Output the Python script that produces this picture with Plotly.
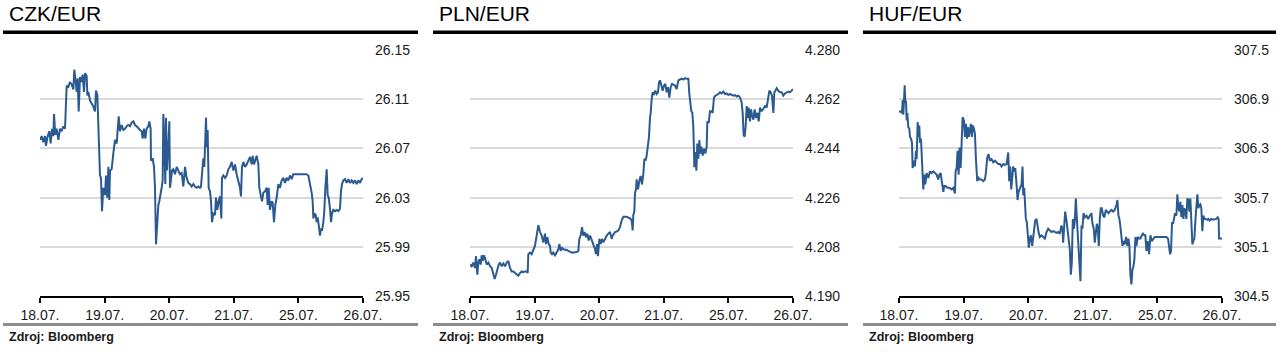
import plotly.graph_objects as go

W, H = 1288, 360

tick_labels = ["18.07.", "19.07.", "20.07.", "21.07.", "25.07.", "26.07."]
tick_positions = [0, 1, 2, 3, 4, 5]
titles = ["CZK/EUR", "PLN/EUR", "HUF/EUR"]
source_text = "Zdroj: Bloomberg"

# ---------------- CZK/EUR ----------------
czk_x = [
    0.000, 0.026, 0.052, 0.077, 0.093, 0.114, 0.144, 0.165, 0.186, 0.206,
    0.217, 0.237, 0.258, 0.284, 0.310, 0.335, 0.361, 0.387, 0.413, 0.439,
    0.464, 0.490, 0.516, 0.531, 0.552, 0.568, 0.583, 0.599, 0.619, 0.645,
    0.660, 0.681, 0.697, 0.722, 0.733, 0.748, 0.774, 0.800, 0.826, 0.851,
    0.867, 0.888, 0.903, 0.913, 0.929, 0.944, 0.960, 0.980, 1.006, 1.022,
    1.042, 1.058, 1.073, 1.084, 1.109, 1.135, 1.161, 1.187, 1.197, 1.218,
    1.238, 1.264, 1.290, 1.316, 1.342, 1.367, 1.393, 1.419, 1.445, 1.471,
    1.496, 1.522, 1.548, 1.574, 1.589, 1.610, 1.631, 1.651, 1.677, 1.692,
    1.713, 1.718, 1.744, 1.765, 1.780, 1.796, 1.811, 1.832, 1.847, 1.868,
    1.883, 1.899, 1.909, 1.925, 1.940, 1.950, 1.966, 1.987, 2.002, 2.012,
    2.028, 2.043, 2.064, 2.090, 2.116, 2.141, 2.167, 2.193, 2.219, 2.245,
    2.270, 2.296, 2.322, 2.348, 2.374, 2.399, 2.425, 2.451, 2.477, 2.492,
    2.503, 2.528, 2.544, 2.554, 2.570, 2.580, 2.595, 2.611, 2.632, 2.647,
    2.663, 2.683, 2.709, 2.724, 2.745, 2.766, 2.786, 2.807, 2.817, 2.838,
    2.864, 2.890, 2.915, 2.941, 2.967, 2.993, 3.019, 3.044, 3.070, 3.096,
    3.111, 3.127, 3.148, 3.173, 3.199, 3.225, 3.251, 3.277, 3.292, 3.313,
    3.333, 3.354, 3.380, 3.395, 3.416, 3.437, 3.457, 3.483, 3.509, 3.524,
    3.540, 3.560, 3.586, 3.602, 3.622, 3.643, 3.664, 3.689, 3.715, 3.741,
    3.767, 3.793, 3.818, 3.844, 3.870, 3.896, 3.922, 3.973, 4.128, 4.154,
    4.169, 4.190, 4.205, 4.221, 4.231, 4.247, 4.267, 4.283, 4.298, 4.314,
    4.334, 4.350, 4.365, 4.386, 4.401, 4.417, 4.438, 4.453, 4.469, 4.489,
    4.505, 4.520, 4.541, 4.567, 4.592, 4.618, 4.644, 4.659, 4.675, 4.696,
    4.721, 4.747, 4.773, 4.799, 4.825, 4.850, 4.876, 4.902, 4.928, 4.954,
    4.979, 5.000,
]
czk_y = [
    26.077, 26.080, 26.075, 26.080, 26.072, 26.079, 26.084, 26.074, 26.086, 26.080,
    26.098, 26.081, 26.086, 26.077, 26.086, 26.084, 26.088, 26.086, 26.121, 26.120,
    26.124, 26.122, 26.118, 26.134, 26.124, 26.116, 26.127, 26.100, 26.128, 26.124,
    26.130, 26.116, 26.131, 26.129, 26.113, 26.116, 26.109, 26.107, 26.104, 26.100,
    26.117, 26.113, 26.093, 26.074, 26.048, 26.046, 26.019, 26.038, 26.032, 26.048,
    26.030, 26.055, 26.028, 26.052, 26.053, 26.066, 26.077, 26.074, 26.080, 26.096,
    26.084, 26.089, 26.085, 26.086, 26.088, 26.089, 26.088, 26.091, 26.092, 26.089,
    26.088, 26.086, 26.085, 26.084, 26.078, 26.086, 26.078, 26.086, 26.088, 26.092,
    26.086, 26.060, 26.062, 26.055, 26.038, 25.992, 26.008, 26.024, 26.027, 26.032,
    26.038, 26.044, 26.098, 26.074, 26.041, 26.095, 26.052, 26.073, 26.092, 26.038,
    26.046, 26.052, 26.053, 26.049, 26.055, 26.052, 26.049, 26.050, 26.039, 26.055,
    26.046, 26.042, 26.041, 26.039, 26.041, 26.039, 26.038, 26.039, 26.038, 26.039,
    26.049, 26.062, 26.055, 26.077, 26.095, 26.071, 26.085, 26.038, 26.035, 26.027,
    26.010, 26.017, 26.016, 26.030, 26.020, 26.027, 26.031, 26.013, 26.046, 26.048,
    26.046, 26.048, 26.053, 26.055, 26.059, 26.052, 26.057, 26.049, 26.044, 26.038,
    26.031, 26.055, 26.059, 26.055, 26.057, 26.060, 26.063, 26.057, 26.064, 26.057,
    26.060, 26.064, 26.057, 26.038, 26.032, 26.027, 26.034, 26.035, 26.038, 26.024,
    26.038, 26.020, 26.027, 26.026, 26.010, 26.024, 26.030, 26.041, 26.038, 26.044,
    26.046, 26.042, 26.046, 26.044, 26.048, 26.045, 26.049, 26.049, 26.049, 26.048,
    26.044, 26.041, 26.034, 26.027, 26.013, 26.017, 26.016, 26.010, 26.014, 26.008,
    25.999, 26.005, 26.003, 26.010, 26.019, 26.038, 26.053, 26.032, 26.030, 26.021,
    26.010, 26.017, 26.020, 26.019, 26.020, 26.019, 26.021, 26.035, 26.041, 26.044,
    26.045, 26.042, 26.045, 26.042, 26.044, 26.042, 26.044, 26.041, 26.044, 26.042,
    26.045, 26.046,
]

# ---------------- PLN/EUR ----------------
pln_x = [
    0.000, 0.026, 0.052, 0.077, 0.093, 0.114, 0.129, 0.144, 0.165, 0.181,
    0.196, 0.217, 0.237, 0.258, 0.284, 0.310, 0.335, 0.361, 0.382, 0.402,
    0.423, 0.444, 0.464, 0.490, 0.516, 0.542, 0.568, 0.593, 0.619, 0.645,
    0.671, 0.697, 0.722, 0.748, 0.774, 0.800, 0.826, 0.851, 0.877, 0.893,
    0.903, 0.929, 0.955, 0.980, 1.006, 1.032, 1.058, 1.084, 1.109, 1.135,
    1.161, 1.176, 1.197, 1.218, 1.238, 1.249, 1.269, 1.290, 1.316, 1.342,
    1.367, 1.383, 1.404, 1.419, 1.445, 1.471, 1.496, 1.522, 1.548, 1.574,
    1.600, 1.625, 1.651, 1.677, 1.692, 1.713, 1.734, 1.754, 1.775, 1.796,
    1.816, 1.837, 1.858, 1.878, 1.909, 1.935, 1.950, 1.966, 1.981, 2.002,
    2.023, 2.043, 2.064, 2.090, 2.116, 2.141, 2.167, 2.193, 2.208, 2.229,
    2.245, 2.270, 2.296, 2.322, 2.348, 2.374, 2.399, 2.425, 2.451, 2.477,
    2.503, 2.518, 2.528, 2.544, 2.554, 2.570, 2.580, 2.601, 2.621, 2.642,
    2.663, 2.683, 2.699, 2.719, 2.735, 2.755, 2.771, 2.786, 2.797, 2.812,
    2.828, 2.848, 2.869, 2.890, 2.910, 2.926, 2.941, 2.962, 2.982, 3.003,
    3.024, 3.044, 3.065, 3.086, 3.106, 3.127, 3.148, 3.173, 3.199, 3.225,
    3.251, 3.277, 3.302, 3.328, 3.354, 3.380, 3.395, 3.411, 3.426, 3.442,
    3.457, 3.473, 3.488, 3.504, 3.519, 3.535, 3.550, 3.566, 3.581, 3.602,
    3.622, 3.643, 3.664, 3.674, 3.695, 3.715, 3.736, 3.756, 3.777, 3.798,
    3.818, 3.844, 3.870, 3.896, 3.922, 3.947, 3.973, 3.999, 4.025, 4.051,
    4.076, 4.102, 4.128, 4.154, 4.180, 4.205, 4.221, 4.236, 4.252, 4.267,
    4.283, 4.298, 4.314, 4.334, 4.350, 4.365, 4.386, 4.407, 4.427, 4.448,
    4.469, 4.489, 4.515, 4.541, 4.567, 4.592, 4.618, 4.634, 4.654, 4.675,
    4.696, 4.711, 4.727, 4.747, 4.773, 4.799, 4.825, 4.850, 4.876, 4.902,
    4.928, 4.954, 4.979, 5.000,
]
pln_y = [
    4.2015, 4.2009, 4.2022, 4.2003, 4.2046, 4.1978, 4.2022, 4.2034, 4.2015, 4.2049,
    4.2028, 4.2049, 4.2034, 4.2015, 4.2022, 4.2009, 4.2003, 4.1984, 4.1962, 4.1978,
    4.1997, 4.2015, 4.2022, 4.2009, 4.2019, 4.2009, 4.2022, 4.2028, 4.2003, 4.1990,
    4.1990, 4.1984, 4.1978, 4.1974, 4.1984, 4.1990, 4.1987, 4.1990, 4.1990, 4.1984,
    4.2053, 4.2059, 4.2053, 4.2071, 4.2084, 4.2121, 4.2159, 4.2134, 4.2121, 4.2096,
    4.2128, 4.2090, 4.2115, 4.2090, 4.2084, 4.2059, 4.2053, 4.2059, 4.2049, 4.2059,
    4.2071, 4.2090, 4.2065, 4.2078, 4.2071, 4.2069, 4.2069, 4.2065, 4.2061, 4.2059,
    4.2059, 4.2059, 4.2061, 4.2065, 4.2109, 4.2121, 4.2152, 4.2121, 4.2134, 4.2115,
    4.2128, 4.2103, 4.2121, 4.2109, 4.2090, 4.2071, 4.2053, 4.2090, 4.2046, 4.2109,
    4.2090, 4.2109, 4.2096, 4.2111, 4.2121, 4.2128, 4.2134, 4.2109, 4.2121, 4.2128,
    4.2134, 4.2136, 4.2140, 4.2152, 4.2177, 4.2190, 4.2190, 4.2190, 4.2187, 4.2184,
    4.2177, 4.2140, 4.2196, 4.2209, 4.2277, 4.2290, 4.2327, 4.2290, 4.2321, 4.2339,
    4.2308, 4.2346, 4.2402, 4.2396, 4.2414, 4.2458, 4.2483, 4.2551, 4.2570, 4.2620,
    4.2645, 4.2639, 4.2651, 4.2639, 4.2645, 4.2682, 4.2689, 4.2670, 4.2651, 4.2670,
    4.2676, 4.2645, 4.2664, 4.2626, 4.2664, 4.2676, 4.2672, 4.2670, 4.2657, 4.2689,
    4.2692, 4.2695, 4.2692, 4.2697, 4.2695, 4.2695, 4.2639, 4.2608, 4.2576, 4.2570,
    4.2520, 4.2371, 4.2427, 4.2358, 4.2458, 4.2402, 4.2470, 4.2421, 4.2446, 4.2414,
    4.2439, 4.2421, 4.2446, 4.2539, 4.2533, 4.2576, 4.2576, 4.2570, 4.2626, 4.2633,
    4.2635, 4.2639, 4.2645, 4.2641, 4.2648, 4.2639, 4.2641, 4.2635, 4.2639, 4.2635,
    4.2633, 4.2635, 4.2630, 4.2633, 4.2626, 4.2608, 4.2570, 4.2489, 4.2483, 4.2520,
    4.2595, 4.2551, 4.2589, 4.2539, 4.2583, 4.2564, 4.2545, 4.2583, 4.2551, 4.2570,
    4.2539, 4.2589, 4.2576, 4.2585, 4.2595, 4.2589, 4.2639, 4.2651, 4.2645, 4.2633,
    4.2570, 4.2645, 4.2651, 4.2660, 4.2651, 4.2645, 4.2645, 4.2633, 4.2641, 4.2645,
    4.2648, 4.2645, 4.2651, 4.2657,
]

# ---------------- HUF/EUR ----------------
huf_x = [
    0.000, 0.026, 0.046, 0.057, 0.067, 0.077, 0.088, 0.098, 0.108, 0.119,
    0.129, 0.144, 0.160, 0.170, 0.186, 0.201, 0.211, 0.232, 0.247, 0.263,
    0.273, 0.289, 0.304, 0.314, 0.325, 0.340, 0.356, 0.366, 0.376, 0.392,
    0.407, 0.428, 0.454, 0.479, 0.505, 0.531, 0.557, 0.582, 0.608, 0.624,
    0.644, 0.660, 0.675, 0.686, 0.701, 0.722, 0.747, 0.778, 0.814, 0.840,
    0.866, 0.876, 0.892, 0.907, 0.923, 0.938, 0.954, 0.969, 0.985, 1.005,
    1.021, 1.036, 1.052, 1.067, 1.082, 1.098, 1.113, 1.129, 1.144, 1.160,
    1.175, 1.191, 1.211, 1.232, 1.253, 1.278, 1.304, 1.330, 1.345, 1.366,
    1.387, 1.407, 1.433, 1.459, 1.485, 1.510, 1.536, 1.562, 1.588, 1.613,
    1.639, 1.665, 1.691, 1.706, 1.722, 1.737, 1.753, 1.768, 1.784, 1.799,
    1.820, 1.835, 1.851, 1.871, 1.897, 1.912, 1.923, 1.938, 1.954, 1.964,
    1.979, 1.995, 2.010, 2.026, 2.041, 2.062, 2.077, 2.093, 2.108, 2.129,
    2.144, 2.160, 2.180, 2.206, 2.232, 2.258, 2.284, 2.309, 2.335, 2.361,
    2.387, 2.412, 2.438, 2.464, 2.490, 2.515, 2.531, 2.541, 2.557, 2.572,
    2.593, 2.608, 2.629, 2.644, 2.660, 2.675, 2.691, 2.706, 2.722, 2.737,
    2.758, 2.778, 2.794, 2.809, 2.825, 2.840, 2.856, 2.876, 2.902, 2.928,
    2.954, 2.979, 2.995, 3.015, 3.031, 3.046, 3.062, 3.077, 3.093, 3.108,
    3.124, 3.139, 3.160, 3.180, 3.201, 3.222, 3.242, 3.263, 3.289, 3.314,
    3.340, 3.366, 3.381, 3.397, 3.412, 3.428, 3.443, 3.459, 3.474, 3.495,
    3.515, 3.536, 3.552, 3.567, 3.582, 3.598, 3.613, 3.629, 3.644, 3.660,
    3.675, 3.696, 3.716, 3.737, 3.758, 3.778, 3.799, 3.814, 3.830, 3.851,
    3.871, 3.892, 3.912, 3.933, 3.959, 3.985, 4.036, 4.088, 4.139, 4.165,
    4.180, 4.196, 4.211, 4.227, 4.242, 4.258, 4.273, 4.294, 4.309, 4.325,
    4.340, 4.356, 4.371, 4.387, 4.402, 4.418, 4.433, 4.448, 4.464, 4.479,
    4.495, 4.510, 4.526, 4.541, 4.557, 4.572, 4.593, 4.608, 4.619, 4.634,
    4.649, 4.665, 4.680, 4.696, 4.711, 4.727, 4.747, 4.768, 4.789, 4.809,
    4.835, 4.861, 4.887, 4.912, 4.933, 4.948, 4.954, 4.974, 5.000,
]
huf_y = [
    306.75, 306.75, 306.73, 306.89, 306.71, 306.89, 307.07, 306.85, 306.88, 306.64,
    306.73, 306.56, 306.54, 306.44, 306.42, 306.37, 306.06, 306.15, 306.08, 306.27,
    306.17, 306.62, 306.44, 306.58, 306.37, 306.42, 306.11, 306.06, 305.80, 305.98,
    305.86, 306.00, 305.94, 306.02, 306.00, 306.02, 306.00, 305.98, 305.92, 305.98,
    306.00, 305.90, 305.86, 305.77, 305.84, 305.84, 305.82, 305.82, 305.80, 305.82,
    305.75, 306.02, 306.06, 306.27, 305.98, 306.31, 306.06, 306.37, 306.68, 306.64,
    306.44, 306.60, 306.42, 306.56, 306.44, 306.52, 306.60, 306.44, 306.58, 306.54,
    306.48, 306.17, 305.90, 305.94, 305.92, 305.92, 305.90, 305.92, 306.00, 306.19,
    306.23, 306.15, 306.17, 306.13, 306.15, 306.13, 306.11, 306.11, 306.08, 306.11,
    306.10, 306.11, 306.25, 305.90, 306.08, 305.80, 305.96, 306.08, 306.02, 306.06,
    305.86, 305.67, 305.77, 305.82, 305.86, 306.08, 305.73, 305.82, 305.61, 305.44,
    305.40, 305.28, 305.09, 305.20, 305.24, 305.11, 305.24, 305.32, 305.42, 305.44,
    305.32, 305.28, 305.22, 305.24, 305.22, 305.20, 305.28, 305.32, 305.30, 305.28,
    305.29, 305.28, 305.27, 305.28, 305.26, 305.36, 305.32, 305.15, 305.44, 305.53,
    305.42, 305.32, 305.24, 305.07, 304.76, 304.91, 305.44, 305.32, 305.42, 305.69,
    305.38, 305.11, 305.01, 304.68, 305.36, 305.32, 305.51, 305.46, 305.48, 305.44,
    305.48, 305.51, 305.38, 305.32, 305.15, 305.24, 305.38, 305.34, 305.11, 305.44,
    305.57, 305.57, 305.48, 305.46, 305.55, 305.53, 305.51, 305.53, 305.55, 305.53,
    305.55, 305.61, 305.67, 305.48, 305.44, 305.34, 305.22, 305.11, 305.17, 305.13,
    305.22, 305.11, 305.20, 305.11, 304.76, 304.64, 304.82, 304.86, 304.95, 305.22,
    305.11, 305.22, 305.20, 305.20, 305.24, 305.26, 305.24, 305.24, 305.05, 305.17,
    305.01, 305.24, 305.17, 305.20, 305.22, 305.22, 305.22, 305.22, 305.22, 305.20,
    305.11, 305.01, 305.05, 305.40, 305.38, 305.44, 305.51, 305.48, 305.74, 305.57,
    305.53, 305.65, 305.46, 305.61, 305.44, 305.57, 305.53, 305.44, 305.69, 305.67,
    305.53, 305.69, 305.36, 305.13, 305.17, 305.20, 305.48, 305.67, 305.74, 305.57,
    305.61, 305.62, 305.57, 305.29, 305.48, 305.44, 305.44, 305.43, 305.44, 305.42,
    305.44, 305.43, 305.44, 305.44, 305.46, 305.44, 305.20, 305.20, 305.20,
]

y_ranges = [(25.95, 26.15), (4.190, 4.280), (304.5, 307.5)]
y_steps = [0.04, 0.018, 0.6]
y_formats = [".2f", ".3f", ".1f"]

series = [(czk_x, czk_y), (pln_x, pln_y), (huf_x, huf_y)]

# layout geometry (pixels)
plot_left = [40, 470, 899]
plot_w = 323
plot_top, plot_bottom = 50, 296
panel_left = [3, 433, 863]
panel_right = [418, 848, 1276]

LINE_COLOR = "#2b5a90"
FONT = "Liberation Sans, Arial, sans-serif"

fig = go.Figure()
layout = dict(
    width=W, height=H, autosize=False,
    margin=dict(l=0, r=0, t=0, b=0, pad=0, autoexpand=False),
    paper_bgcolor="white", plot_bgcolor="white",
    showlegend=False,
    font=dict(family=FONT, size=14, color="#1a1a1a"),
)
shapes = []
annotations = []

for i, ((xs, ys), title) in enumerate(zip(series, titles)):
    n = "" if i == 0 else str(i + 1)
    fig.add_trace(go.Scatter(
        x=xs, y=ys, mode="lines",
        line=dict(color=LINE_COLOR, width=2),
        xaxis="x" + n, yaxis="y" + n, hoverinfo="skip",
    ))
    x0 = plot_left[i] / W
    x1 = (plot_left[i] + plot_w) / W
    layout["xaxis" + n] = dict(
        domain=[x0, x1], anchor="y" + n, range=[0, 5], automargin=False,
        tickmode="array", tickvals=tick_positions, ticktext=tick_labels,
        showline=True, linecolor="black", linewidth=2,
        ticks="outside", ticklen=5, tickwidth=2, tickcolor="black",
        showgrid=False, zeroline=False,
        tickfont=dict(family=FONT, size=14, color="#1a1a1a"),
        fixedrange=True,
    )
    lo, hi = y_ranges[i]
    layout["yaxis" + n] = dict(
        domain=[1 - plot_bottom / H, 1 - plot_top / H], anchor="x" + n,
        side="right", range=[lo, hi], tick0=lo, dtick=y_steps[i], automargin=False,
        tickformat=y_formats[i],
        showgrid=True, gridcolor="#d9d9d9", gridwidth=2,
        zeroline=False, showline=False, ticks="",
        ticklabelstandoff=11,
        tickfont=dict(family=FONT, size=14, color="#1a1a1a"),
        fixedrange=True,
    )
    # black rule under the title
    shapes.append(dict(type="line", xref="paper", yref="paper",
                       x0=panel_left[i] / W, x1=panel_right[i] / W,
                       y0=1 - 32.3 / H, y1=1 - 32.3 / H,
                       line=dict(color="black", width=3.4)))
    # grey rule at the bottom
    shapes.append(dict(type="line", xref="paper", yref="paper",
                       x0=panel_left[i] / W, x1=panel_right[i] / W,
                       y0=1 - 324.5 / H, y1=1 - 324.5 / H,
                       line=dict(color="#8c8c8c", width=3)))
    annotations.append(dict(text=title, xref="paper", yref="paper",
                            x=(panel_left[i] + 4) / W, y=1 - 14 / H,
                            xanchor="left", yanchor="middle", showarrow=False,
                            font=dict(family=FONT, size=21, color="black")))
    annotations.append(dict(text="<b>" + source_text + "</b>", xref="paper", yref="paper",
                            x=(panel_left[i] + 4) / W, y=1 - 337 / H,
                            xanchor="left", yanchor="middle", showarrow=False,
                            font=dict(family=FONT, size=12.5, color="#1a1a1a")))

layout["shapes"] = shapes
layout["annotations"] = annotations
fig.update_layout(**layout)
fig.write_html(
    "out.html",
    config={"responsive": False, "displayModeBar": False},
    post_script="document.body.style.margin='0';document.body.style.overflow='hidden';",
)
